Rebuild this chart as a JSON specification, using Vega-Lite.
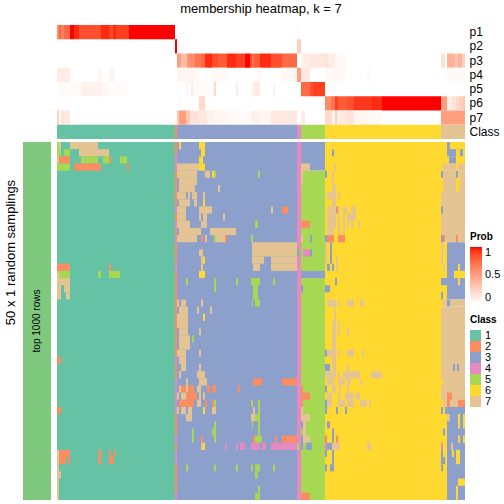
{"$schema":"https://vega.github.io/schema/vega-lite/v6.json","padding":{"left":4,"top":3,"right":0,"bottom":0},"background":"white","bounds":"flush","columns":2,"spacing":{"column":6,"row":3},
"config":{"view":{"stroke":null},"font":"Liberation Sans"},
"resolve":{"scale":{"color":"independent"}},
"concat":[
{"width":28,"height":114,"data":{"values":[]},"mark":{"type":"rect"},"encoding":{}},
{"width":408,"height":114,"title":{"text":"membership heatmap, k = 7","font":"Liberation Sans","fontSize":13,"fontWeight":"normal","anchor":"middle","offset":9,"color":"#000"},
"resolve":{"scale":{"color":"independent"}},
"layer":[
{"data":{"values":[
{"track":"p1","from":0,"to":1,"prob":0.6},{"track":"p1","from":1,"to":2,"prob":0.75},{"track":"p1","from":2,"to":3.5,"prob":0.65},{"track":"p1","from":3.5,"to":6.5,"prob":0.75},{"track":"p1","from":6.5,"to":8.5,"prob":1},{"track":"p1","from":8.5,"to":11,"prob":0.95},{"track":"p1","from":11,"to":22,"prob":0.85},{"track":"p1","from":22,"to":26,"prob":0.95},{"track":"p1","from":26,"to":27,"prob":0.9},{"track":"p1","from":27,"to":28,"prob":0.85},{"track":"p1","from":28,"to":29.5,"prob":0.95},{"track":"p1","from":29.5,"to":36,"prob":0.9},{"track":"p1","from":36,"to":59,"prob":1},{"track":"p1","from":120,"to":121,"prob":0.03},
{"track":"p2","from":59,"to":60,"prob":1},{"track":"p2","from":120,"to":122,"prob":0.25},
{"track":"p3","from":60,"to":62,"prob":0.5},{"track":"p3","from":62,"to":65,"prob":0.35},{"track":"p3","from":65,"to":66.5,"prob":0.55},{"track":"p3","from":66.5,"to":69,"prob":0.6},{"track":"p3","from":69,"to":72,"prob":0.7},{"track":"p3","from":72,"to":74,"prob":0.75},{"track":"p3","from":74,"to":77.5,"prob":0.95},{"track":"p3","from":77.5,"to":80.5,"prob":0.85},{"track":"p3","from":80.5,"to":85,"prob":0.8},{"track":"p3","from":85,"to":89.5,"prob":0.95},{"track":"p3","from":89.5,"to":94,"prob":0.9},{"track":"p3","from":94,"to":96.5,"prob":1},{"track":"p3","from":96.5,"to":97.5,"prob":0.85},{"track":"p3","from":97.5,"to":98.5,"prob":0.7},{"track":"p3","from":98.5,"to":101.5,"prob":0.8},{"track":"p3","from":101.5,"to":107,"prob":0.95},{"track":"p3","from":107,"to":112.5,"prob":0.85},{"track":"p3","from":112.5,"to":120,"prob":0.75},{"track":"p3","from":122,"to":123,"prob":0.05},{"track":"p3","from":123,"to":126.5,"prob":0.1},{"track":"p3","from":126.5,"to":134,"prob":0.12},{"track":"p3","from":134,"to":135.5,"prob":0.15},{"track":"p3","from":135.5,"to":139,"prob":0.1},{"track":"p3","from":139,"to":144.5,"prob":0.03},{"track":"p3","from":192,"to":194,"prob":0.15},{"track":"p3","from":195,"to":199,"prob":0.4},{"track":"p3","from":199,"to":200.5,"prob":0.3},{"track":"p3","from":200.5,"to":202.5,"prob":0.4},{"track":"p3","from":202.5,"to":204,"prob":0.25},
{"track":"p4","from":0,"to":6.5,"prob":0.1},{"track":"p4","from":20.5,"to":22,"prob":0.05},{"track":"p4","from":26,"to":29,"prob":0.05},{"track":"p4","from":60,"to":68.5,"prob":0.05},{"track":"p4","from":68.5,"to":71.5,"prob":0.03},{"track":"p4","from":74,"to":75,"prob":0.03},{"track":"p4","from":77.5,"to":85,"prob":0.03},{"track":"p4","from":99.5,"to":102.5,"prob":0.03},{"track":"p4","from":112.5,"to":117.5,"prob":0.04},{"track":"p4","from":117.5,"to":120,"prob":0.05},{"track":"p4","from":120,"to":122,"prob":0.5},{"track":"p4","from":122,"to":126.5,"prob":0.12},{"track":"p4","from":134,"to":144,"prob":0.03},{"track":"p4","from":155,"to":157,"prob":0.03},{"track":"p4","from":195,"to":204,"prob":0.03},
{"track":"p5","from":1,"to":8.5,"prob":0.02},{"track":"p5","from":8.5,"to":12,"prob":0.03},{"track":"p5","from":12,"to":22,"prob":0.07},{"track":"p5","from":22,"to":26,"prob":0.04},{"track":"p5","from":26,"to":36,"prob":0.02},{"track":"p5","from":64.5,"to":65.5,"prob":0.05},{"track":"p5","from":67,"to":68,"prob":0.1},{"track":"p5","from":68,"to":78.5,"prob":0.02},{"track":"p5","from":78.5,"to":79.5,"prob":0.2},{"track":"p5","from":89.5,"to":90.5,"prob":0.1},{"track":"p5","from":97.5,"to":98,"prob":0.1},{"track":"p5","from":98,"to":99,"prob":0.07},{"track":"p5","from":99,"to":101.5,"prob":0.12},{"track":"p5","from":108,"to":109,"prob":0.06},{"track":"p5","from":122,"to":126.5,"prob":0.75},{"track":"p5","from":126.5,"to":128,"prob":0.85},{"track":"p5","from":128,"to":134,"prob":0.9},
{"track":"p6","from":61,"to":62,"prob":0.02},{"track":"p6","from":71,"to":74,"prob":0.2},{"track":"p6","from":134,"to":137,"prob":0.6},{"track":"p6","from":137,"to":139,"prob":0.7},{"track":"p6","from":139,"to":140.5,"prob":0.9},{"track":"p6","from":140.5,"to":145,"prob":0.8},{"track":"p6","from":145,"to":148.5,"prob":0.85},{"track":"p6","from":148.5,"to":157.5,"prob":0.92},{"track":"p6","from":157.5,"to":162.5,"prob":0.95},{"track":"p6","from":162.5,"to":192,"prob":1},{"track":"p6","from":192,"to":195,"prob":0.5},{"track":"p6","from":195,"to":197.5,"prob":0.1},{"track":"p6","from":197.5,"to":199.5,"prob":0.15},{"track":"p6","from":199.5,"to":201,"prob":0.2},{"track":"p6","from":201,"to":203,"prob":0.25},{"track":"p6","from":203,"to":204,"prob":0.3},
{"track":"p7","from":0,"to":1,"prob":0.25},{"track":"p7","from":1,"to":2,"prob":0.03},{"track":"p7","from":2,"to":3.5,"prob":0.15},{"track":"p7","from":3.5,"to":6.5,"prob":0.12},{"track":"p7","from":60,"to":61,"prob":0.3},{"track":"p7","from":61,"to":64.5,"prob":0.5},{"track":"p7","from":64.5,"to":66.5,"prob":0.3},{"track":"p7","from":66.5,"to":71,"prob":0.15},{"track":"p7","from":71,"to":75,"prob":0.12},{"track":"p7","from":75,"to":78.5,"prob":0.07},{"track":"p7","from":78.5,"to":85,"prob":0.05},{"track":"p7","from":85,"to":91.5,"prob":0.03},{"track":"p7","from":91.5,"to":97.5,"prob":0.02},{"track":"p7","from":97.5,"to":98,"prob":0.1},{"track":"p7","from":98,"to":101.5,"prob":0.08},{"track":"p7","from":101.5,"to":107,"prob":0.05},{"track":"p7","from":107,"to":120,"prob":0.12},{"track":"p7","from":122,"to":124,"prob":0.1},{"track":"p7","from":134,"to":137.5,"prob":0.2},{"track":"p7","from":137.5,"to":139,"prob":0.05},{"track":"p7","from":139,"to":140,"prob":0.25},{"track":"p7","from":140,"to":141.5,"prob":0.1},{"track":"p7","from":141.5,"to":145,"prob":0.12},{"track":"p7","from":145,"to":148.5,"prob":0.15},{"track":"p7","from":148.5,"to":156,"prob":0.05},{"track":"p7","from":156,"to":162.5,"prob":0.03},{"track":"p7","from":192,"to":204,"prob":0.5}
]},
"mark":{"type":"rect"},
"encoding":{
"x":{"field":"from","type":"quantitative","scale":{"domain":[0,204],"nice":false,"zero":false},"axis":null},"x2":{"field":"to"},
"y":{"field":"track","type":"nominal","scale":{"domain":["p1","p2","p3","p4","p5","p6","p7","Class"],"paddingInner":0,"paddingOuter":0},"axis":{"orient":"right","title":null,"ticks":false,"domain":false,"labelPadding":4,"labelFontSize":12,"labelColor":"#000","labelFont":"Liberation Sans"}},
"color":{"field":"prob","type":"quantitative","scale":{"domain":[0,1],"range":["#ffffff","#ff0000"],"interpolate":"lab"},
"legend":{"title":"Prob","orient":"none","legendX":413,"legendY":207,"gradientLength":56,"gradientThickness":12,"values":[0,0.5,1],"format":".1~f","titleFontSize":10,"titleFontWeight":"bold","titleColor":"#000","labelColor":"#000","labelFontSize":11,"labelOffset":3,"labelBaseline":"middle","labelFont":"Liberation Sans","titleFont":"Liberation Sans"}}
}},
{"data":{"values":[
{"track":"Class","from":0,"to":59,"cls":"1"},{"track":"Class","from":59,"to":60,"cls":"2"},{"track":"Class","from":60,"to":120,"cls":"3"},{"track":"Class","from":120,"to":122,"cls":"4"},{"track":"Class","from":122,"to":134,"cls":"5"},{"track":"Class","from":134,"to":192,"cls":"6"},{"track":"Class","from":192,"to":204,"cls":"7"}
]},
"mark":{"type":"rect"},
"encoding":{
"x":{"field":"from","type":"quantitative","axis":null},"x2":{"field":"to"},
"y":{"field":"track","type":"nominal"},
"color":{"field":"cls","type":"nominal","scale":{"domain":["1","2","3","4","5","6","7"],"range":["#66C2A5","#FC8D62","#8DA0CB","#E78AC3","#A6D854","#FFD92F","#E5C494"]},"legend":null}
}}
]},
{"width":28,"height":358,
"layer":[
{"data":{"values":[{"top":0,"bottom":50,"group":"top 1000 rows"}]},
"mark":{"type":"rect","color":"#7FC97F"},
"encoding":{"y":{"field":"top","type":"quantitative","scale":{"domain":[0,50],"reverse":true,"nice":false,"zero":false},"axis":{"title":"50 x 1 random samplings","labels":false,"ticks":false,"domain":false,"grid":false,"titleX":-6,"titleY":110,"titleFontSize":13,"titleFontWeight":"normal","titleColor":"#000","titleFont":"Liberation Sans"}},"y2":{"field":"bottom"}}},
{"data":{"values":[{"pos":25,"group":"top 1000 rows"}]},
"mark":{"type":"text","angle":270,"fontSize":10,"color":"#000","font":"Liberation Sans","baseline":"middle","align":"center"},
"encoding":{"y":{"field":"pos","type":"quantitative"},"text":{"field":"group"}}}
]},
{"width":408,"height":358,
"data":{"values":[
{"from":0,"to":59,"top":0,"bottom":50,"cls":"1"},{"from":59,"to":60,"top":0,"bottom":50,"cls":"2"},{"from":60,"to":120,"top":0,"bottom":50,"cls":"3"},{"from":120,"to":122,"top":0,"bottom":50,"cls":"4"},{"from":122,"to":134,"top":0,"bottom":4,"cls":"3"},{"from":122,"to":134,"top":4,"bottom":50,"cls":"5"},{"from":134,"to":192,"top":0,"bottom":50,"cls":"6"},
{"from":192,"to":204,"top":0,"bottom":4,"cls":"6"},{"from":192,"to":193,"top":4,"bottom":7,"cls":"6"},{"from":193,"to":204,"top":4,"bottom":7,"cls":"7"},{"from":192,"to":204,"top":7,"bottom":14,"cls":"7"},{"from":192,"to":195,"top":14,"bottom":23,"cls":"6"},{"from":195,"to":204,"top":14,"bottom":22,"cls":"3"},{"from":192,"to":204,"top":23,"bottom":37,"cls":"7"},{"from":196.5,"to":204,"top":22,"bottom":23,"cls":"7"},{"from":193,"to":195,"top":22,"bottom":23,"cls":"7"},{"from":195,"to":196.5,"top":22,"bottom":23,"cls":"3"},{"from":192,"to":195,"top":37,"bottom":50,"cls":"6"},{"from":195,"to":204,"top":37,"bottom":50,"cls":"3"},
{"from":59,"to":60,"top":2,"bottom":4,"cls":"4"},{"from":59,"to":60,"top":9,"bottom":10,"cls":"4"},{"from":59,"to":60,"top":11,"bottom":12,"cls":"4"},{"from":59,"to":60,"top":13,"bottom":14,"cls":"4"},{"from":59,"to":60,"top":17,"bottom":18,"cls":"4"},{"from":59,"to":60,"top":30,"bottom":31,"cls":"4"},{"from":59,"to":60,"top":33,"bottom":38,"cls":"4"},{"from":59,"to":60,"top":41,"bottom":42,"cls":"4"},{"from":59,"to":60,"top":43,"bottom":45,"cls":"4"},{"from":59,"to":60,"top":49,"bottom":50,"cls":"4"},
{"from":0,"to":1,"top":0,"bottom":1,"cls":"5"},{"from":1,"to":2,"top":0,"bottom":1,"cls":"7"},{"from":6.5,"to":20.5,"top":0,"bottom":1,"cls":"7"},
{"from":0,"to":2,"top":1,"bottom":2,"cls":"5"},{"from":3.5,"to":6.5,"top":1,"bottom":2,"cls":"5"},{"from":11,"to":26,"top":1,"bottom":2,"cls":"7"},
{"from":0,"to":1,"top":2,"bottom":3,"cls":"7"},{"from":1,"to":6.5,"top":2,"bottom":3,"cls":"2"},{"from":12,"to":20.5,"top":2,"bottom":3,"cls":"5"},{"from":23,"to":26,"top":2,"bottom":3,"cls":"5"},{"from":26,"to":27,"top":2,"bottom":3,"cls":"2"},{"from":31.5,"to":35,"top":2,"bottom":3,"cls":"5"},
{"from":0,"to":6.5,"top":3,"bottom":4,"cls":"5"},{"from":8.5,"to":22,"top":3,"bottom":4,"cls":"2"},{"from":35,"to":36,"top":3,"bottom":4,"cls":"2"},
{"from":0,"to":6.5,"top":17,"bottom":18,"cls":"2"},{"from":26,"to":27,"top":17,"bottom":18,"cls":"2"},
{"from":0,"to":1,"top":18,"bottom":19,"cls":"7"},{"from":1,"to":6.5,"top":18,"bottom":19,"cls":"5"},{"from":20.5,"to":22,"top":18,"bottom":19,"cls":"5"},{"from":26,"to":31.5,"top":18,"bottom":19,"cls":"5"},
{"from":0,"to":6.5,"top":19,"bottom":20,"cls":"7"},{"from":0,"to":2,"top":20,"bottom":21,"cls":"7"},{"from":3.5,"to":6.5,"top":20,"bottom":21,"cls":"7"},{"from":0,"to":2,"top":21,"bottom":22,"cls":"7"},{"from":4.5,"to":6.5,"top":21,"bottom":22,"cls":"7"},
{"from":0,"to":2,"top":30,"bottom":31,"cls":"2"},{"from":0,"to":2,"top":37,"bottom":38,"cls":"2"},
{"from":0,"to":1,"top":43,"bottom":45,"cls":"7"},{"from":1,"to":6.5,"top":43,"bottom":44,"cls":"2"},{"from":20.5,"to":22,"top":43,"bottom":45,"cls":"2"},{"from":26,"to":27,"top":43,"bottom":44,"cls":"2"},{"from":28.5,"to":29.5,"top":43,"bottom":44,"cls":"2"},{"from":1,"to":4.5,"top":44,"bottom":45,"cls":"2"},{"from":5.5,"to":6.5,"top":44,"bottom":45,"cls":"2"},{"from":26,"to":28.5,"top":44,"bottom":45,"cls":"2"},
{"from":0,"to":1,"top":45,"bottom":46,"cls":"7"},{"from":0,"to":2,"top":46,"bottom":47,"cls":"7"},{"from":0,"to":1,"top":47,"bottom":50,"cls":"7"},
{"from":61,"to":62,"top":0,"bottom":1,"cls":"6"},{"from":71,"to":74,"top":0,"bottom":1,"cls":"6"},{"from":72,"to":74,"top":1,"bottom":2,"cls":"6"},{"from":71,"to":73,"top":2,"bottom":3,"cls":"6"},{"from":60,"to":71,"top":3,"bottom":4,"cls":"7"},{"from":71,"to":74,"top":3,"bottom":4,"cls":"6"},
{"from":60,"to":70,"top":4,"bottom":5,"cls":"7"},{"from":74,"to":76.5,"top":4,"bottom":5,"cls":"7"},{"from":77.5,"to":78.5,"top":4,"bottom":5,"cls":"6"},{"from":78.5,"to":79.5,"top":4,"bottom":5,"cls":"5"},{"from":100.5,"to":101.5,"top":4,"bottom":5,"cls":"5"},
{"from":61,"to":70,"top":5,"bottom":6,"cls":"7"},{"from":61,"to":69,"top":6,"bottom":7,"cls":"7"},{"from":80.5,"to":81.5,"top":6,"bottom":7,"cls":"7"},
{"from":60,"to":64.5,"top":7,"bottom":8,"cls":"7"},{"from":65.5,"to":66.5,"top":7,"bottom":8,"cls":"7"},{"from":67.5,"to":70,"top":7,"bottom":8,"cls":"7"},{"from":73,"to":74,"top":7,"bottom":8,"cls":"7"},
{"from":61,"to":66.5,"top":8,"bottom":9,"cls":"7"},{"from":68.5,"to":70,"top":8,"bottom":9,"cls":"7"},{"from":73,"to":74,"top":8,"bottom":9,"cls":"6"},
{"from":60,"to":64.5,"top":9,"bottom":10,"cls":"7"},{"from":71,"to":77.5,"top":9,"bottom":10,"cls":"7"},{"from":107,"to":108,"top":9,"bottom":10,"cls":"7"},{"from":112.5,"to":115.5,"top":9,"bottom":10,"cls":"2"},
{"from":60,"to":64.5,"top":10,"bottom":11,"cls":"7"},{"from":71,"to":72,"top":10,"bottom":11,"cls":"7"},{"from":73,"to":75,"top":10,"bottom":11,"cls":"7"},{"from":83,"to":84,"top":10,"bottom":11,"cls":"7"},
{"from":60,"to":66.5,"top":11,"bottom":12,"cls":"7"},{"from":72,"to":75,"top":11,"bottom":12,"cls":"7"},{"from":99,"to":100.5,"top":11,"bottom":12,"cls":"5"},
{"from":61,"to":72,"top":12,"bottom":13,"cls":"7"},{"from":76.5,"to":89.5,"top":12,"bottom":13,"cls":"7"},
{"from":60,"to":70,"top":13,"bottom":14,"cls":"7"},{"from":72,"to":73,"top":13,"bottom":14,"cls":"2"},{"from":74,"to":75,"top":13,"bottom":14,"cls":"7"},{"from":78.5,"to":79.5,"top":13,"bottom":14,"cls":"5"},{"from":79.5,"to":84,"top":13,"bottom":14,"cls":"7"},{"from":84,"to":85,"top":13,"bottom":14,"cls":"2"},{"from":97,"to":98,"top":13,"bottom":14,"cls":"5"},
{"from":97.5,"to":120,"top":14,"bottom":16,"cls":"7"},{"from":71,"to":73,"top":15,"bottom":16,"cls":"7"},
{"from":72,"to":73,"top":16,"bottom":17,"cls":"7"},{"from":73,"to":74,"top":16,"bottom":17,"cls":"6"},{"from":97.5,"to":103.5,"top":16,"bottom":17,"cls":"7"},{"from":107,"to":120,"top":16,"bottom":17,"cls":"7"},
{"from":72,"to":73,"top":17,"bottom":18,"cls":"7"},{"from":98,"to":101.5,"top":17,"bottom":18,"cls":"7"},{"from":107,"to":120,"top":17,"bottom":18,"cls":"7"},
{"from":71,"to":74,"top":18,"bottom":19,"cls":"6"},
{"from":64.5,"to":65.5,"top":19,"bottom":20,"cls":"5"},{"from":78.5,"to":79.5,"top":19,"bottom":20,"cls":"5"},{"from":89.5,"to":90.5,"top":19,"bottom":20,"cls":"5"},{"from":97,"to":101.5,"top":19,"bottom":20,"cls":"5"},{"from":108,"to":109,"top":19,"bottom":20,"cls":"5"},
{"from":78.5,"to":79.5,"top":20,"bottom":21,"cls":"5"},{"from":98,"to":100.5,"top":20,"bottom":22,"cls":"5"},
{"from":60,"to":61,"top":22,"bottom":23,"cls":"7"},{"from":62,"to":64.5,"top":22,"bottom":23,"cls":"7"},{"from":72,"to":73,"top":22,"bottom":23,"cls":"7"},{"from":97.5,"to":98,"top":22,"bottom":23,"cls":"5"},{"from":99,"to":101.5,"top":22,"bottom":23,"cls":"5"},
{"from":61,"to":65.5,"top":23,"bottom":24,"cls":"7"},{"from":70,"to":71,"top":23,"bottom":24,"cls":"7"},{"from":76.5,"to":77.5,"top":23,"bottom":24,"cls":"7"},
{"from":60,"to":65.5,"top":24,"bottom":26,"cls":"7"},{"from":73,"to":74,"top":24,"bottom":25,"cls":"6"},
{"from":61,"to":65.5,"top":26,"bottom":27,"cls":"7"},{"from":71,"to":72,"top":26,"bottom":27,"cls":"7"},
{"from":61,"to":66.5,"top":27,"bottom":29,"cls":"7"},{"from":67.5,"to":68.5,"top":27,"bottom":28,"cls":"5"},
{"from":60,"to":64.5,"top":29,"bottom":30,"cls":"7"},{"from":71,"to":72,"top":29,"bottom":30,"cls":"7"},{"from":61,"to":64.5,"top":30,"bottom":31,"cls":"7"},{"from":62,"to":64.5,"top":31,"bottom":32,"cls":"7"},{"from":71,"to":72,"top":31,"bottom":32,"cls":"7"},
{"from":61,"to":62,"top":32,"bottom":33,"cls":"7"},{"from":70,"to":74,"top":32,"bottom":33,"cls":"7"},
{"from":64.5,"to":65.5,"top":33,"bottom":34,"cls":"7"},{"from":71,"to":75,"top":33,"bottom":34,"cls":"7"},{"from":98,"to":102.5,"top":33,"bottom":34,"cls":"2"},{"from":112.5,"to":120,"top":33,"bottom":34,"cls":"2"},
{"from":61,"to":62,"top":34,"bottom":35,"cls":"7"},{"from":62,"to":64.5,"top":34,"bottom":35,"cls":"2"},{"from":64.5,"to":65.5,"top":34,"bottom":35,"cls":"7"},{"from":65.5,"to":68.5,"top":34,"bottom":35,"cls":"2"},{"from":70,"to":72,"top":34,"bottom":35,"cls":"7"},{"from":75,"to":76.5,"top":34,"bottom":35,"cls":"2"},{"from":77.5,"to":79.5,"top":34,"bottom":35,"cls":"2"},{"from":90.5,"to":91.5,"top":34,"bottom":35,"cls":"2"},
{"from":60,"to":61,"top":35,"bottom":36,"cls":"7"},{"from":62,"to":64.5,"top":35,"bottom":36,"cls":"7"},{"from":64.5,"to":70,"top":35,"bottom":36,"cls":"2"},{"from":71,"to":72,"top":35,"bottom":36,"cls":"7"},{"from":73,"to":74,"top":35,"bottom":36,"cls":"7"},
{"from":61,"to":68.5,"top":36,"bottom":37,"cls":"2"},{"from":70,"to":72,"top":36,"bottom":37,"cls":"7"},{"from":74,"to":75,"top":36,"bottom":37,"cls":"2"},{"from":77.5,"to":78.5,"top":36,"bottom":37,"cls":"2"},{"from":78.5,"to":79.5,"top":36,"bottom":37,"cls":"5"},{"from":97,"to":98,"top":36,"bottom":37,"cls":"5"},{"from":100.5,"to":101.5,"top":36,"bottom":37,"cls":"5"},
{"from":60,"to":61,"top":37,"bottom":38,"cls":"7"},{"from":62,"to":64.5,"top":37,"bottom":38,"cls":"7"},{"from":65.5,"to":67.5,"top":37,"bottom":38,"cls":"7"},{"from":73,"to":74,"top":37,"bottom":38,"cls":"6"},{"from":77.5,"to":79.5,"top":37,"bottom":38,"cls":"7"},{"from":98,"to":99,"top":37,"bottom":38,"cls":"7"},{"from":100.5,"to":101.5,"top":37,"bottom":38,"cls":"5"},
{"from":64.5,"to":67.5,"top":38,"bottom":39,"cls":"7"},{"from":97,"to":99,"top":38,"bottom":39,"cls":"7"},{"from":99,"to":101.5,"top":38,"bottom":39,"cls":"5"},
{"from":78.5,"to":79.5,"top":39,"bottom":40,"cls":"5"},{"from":97.5,"to":98,"top":39,"bottom":40,"cls":"5"},{"from":100.5,"to":101.5,"top":39,"bottom":41,"cls":"5"},
{"from":67.5,"to":68.5,"top":40,"bottom":42,"cls":"5"},{"from":77.5,"to":79.5,"top":40,"bottom":41,"cls":"5"},
{"from":72,"to":73,"top":41,"bottom":42,"cls":"2"},{"from":78.5,"to":79.5,"top":41,"bottom":42,"cls":"5"},{"from":98,"to":99,"top":41,"bottom":42,"cls":"2"},{"from":99,"to":102.5,"top":41,"bottom":42,"cls":"5"},{"from":109,"to":110,"top":41,"bottom":42,"cls":"2"},{"from":112.5,"to":120,"top":41,"bottom":42,"cls":"2"},
{"from":72,"to":73,"top":42,"bottom":43,"cls":"7"},{"from":73,"to":74,"top":42,"bottom":43,"cls":"6"},{"from":84,"to":85,"top":42,"bottom":43,"cls":"4"},{"from":89.5,"to":90.5,"top":42,"bottom":43,"cls":"4"},{"from":91.5,"to":94,"top":42,"bottom":43,"cls":"4"},{"from":97,"to":101.5,"top":42,"bottom":43,"cls":"4"},{"from":102.5,"to":104.5,"top":42,"bottom":43,"cls":"4"},{"from":107,"to":120,"top":42,"bottom":43,"cls":"4"},
{"from":64.5,"to":65.5,"top":45,"bottom":46,"cls":"5"},{"from":78.5,"to":79.5,"top":45,"bottom":46,"cls":"5"},{"from":89.5,"to":90.5,"top":45,"bottom":46,"cls":"5"},{"from":97,"to":98,"top":45,"bottom":46,"cls":"5"},{"from":99,"to":101.5,"top":45,"bottom":46,"cls":"5"},{"from":108,"to":109,"top":45,"bottom":46,"cls":"5"},
{"from":99,"to":100.5,"top":46,"bottom":47,"cls":"5"},{"from":100.5,"to":101.5,"top":48,"bottom":49,"cls":"5"},{"from":99,"to":101.5,"top":49,"bottom":50,"cls":"5"},
{"from":122,"to":126.5,"top":3,"bottom":4,"cls":"7"},{"from":122,"to":123,"top":4,"bottom":6,"cls":"7"},{"from":122,"to":126.5,"top":11,"bottom":12,"cls":"2"},{"from":122,"to":123,"top":13,"bottom":14,"cls":"7"},{"from":126.5,"to":127.5,"top":13,"bottom":14,"cls":"3"},
{"from":120,"to":121,"top":15,"bottom":16,"cls":"1"},{"from":123,"to":126.5,"top":15,"bottom":16,"cls":"4"},{"from":126.5,"to":127.5,"top":15,"bottom":16,"cls":"3"},
{"from":122,"to":134,"top":18,"bottom":19,"cls":"3"},{"from":122,"to":123,"top":20,"bottom":21,"cls":"3"},{"from":122,"to":123,"top":34,"bottom":35,"cls":"2"},{"from":122,"to":126.5,"top":35,"bottom":36,"cls":"2"},{"from":122,"to":123,"top":36,"bottom":37,"cls":"2"},{"from":122,"to":123,"top":37,"bottom":38,"cls":"7"},{"from":122,"to":126.5,"top":38,"bottom":39,"cls":"7"},{"from":122,"to":123,"top":39,"bottom":40,"cls":"3"},{"from":123,"to":124.5,"top":39,"bottom":41,"cls":"7"},{"from":122,"to":123,"top":41,"bottom":42,"cls":"3"},{"from":123,"to":126.5,"top":41,"bottom":42,"cls":"7"},{"from":120,"to":121,"top":42,"bottom":43,"cls":"5"},{"from":122,"to":123,"top":42,"bottom":43,"cls":"3"},{"from":124.5,"to":127.5,"top":42,"bottom":43,"cls":"3"},{"from":122,"to":126.5,"top":49,"bottom":50,"cls":"2"},
{"from":137.5,"to":138.5,"top":1,"bottom":2,"cls":"3"},{"from":138.5,"to":139.5,"top":3,"bottom":4,"cls":"7"},{"from":134,"to":135,"top":4,"bottom":5,"cls":"3"},{"from":137.5,"to":138.5,"top":4,"bottom":6,"cls":"7"},{"from":137.5,"to":139.5,"top":6,"bottom":7,"cls":"7"},
{"from":135,"to":139.5,"top":7,"bottom":8,"cls":"7"},{"from":140.5,"to":141.5,"top":7,"bottom":8,"cls":"7"},{"from":137.5,"to":139.5,"top":8,"bottom":9,"cls":"7"},
{"from":135,"to":139.5,"top":9,"bottom":10,"cls":"7"},{"from":139.5,"to":140.5,"top":9,"bottom":10,"cls":"2"},{"from":140.5,"to":141.5,"top":9,"bottom":10,"cls":"7"},{"from":143,"to":145,"top":9,"bottom":10,"cls":"7"},{"from":147,"to":149.5,"top":9,"bottom":10,"cls":"7"},
{"from":135,"to":139.5,"top":10,"bottom":12,"cls":"7"},{"from":140.5,"to":141.5,"top":10,"bottom":13,"cls":"7"},{"from":143,"to":144,"top":10,"bottom":13,"cls":"7"},{"from":145,"to":149.5,"top":10,"bottom":11,"cls":"7"},{"from":145,"to":146,"top":11,"bottom":12,"cls":"7"},{"from":147,"to":148,"top":11,"bottom":12,"cls":"7"},{"from":150.5,"to":151.5,"top":11,"bottom":12,"cls":"7"},{"from":135,"to":138.5,"top":12,"bottom":13,"cls":"7"},
{"from":134,"to":135,"top":13,"bottom":14,"cls":"3"},{"from":135,"to":138.5,"top":13,"bottom":14,"cls":"2"},{"from":140.5,"to":144,"top":13,"bottom":14,"cls":"2"},
{"from":134,"to":135,"top":14,"bottom":17,"cls":"7"},{"from":136.5,"to":137.5,"top":14,"bottom":17,"cls":"3"},{"from":139.5,"to":140.5,"top":16,"bottom":18,"cls":"7"},{"from":135,"to":136.5,"top":17,"bottom":18,"cls":"3"},{"from":137.5,"to":138.5,"top":17,"bottom":18,"cls":"3"},
{"from":139,"to":140,"top":19,"bottom":20,"cls":"3"},{"from":134,"to":136.5,"top":20,"bottom":21,"cls":"3"},
{"from":135,"to":139.5,"top":22,"bottom":23,"cls":"7"},{"from":140.5,"to":141.5,"top":22,"bottom":23,"cls":"7"},{"from":145,"to":148.5,"top":22,"bottom":23,"cls":"7"},{"from":151.5,"to":153.5,"top":22,"bottom":23,"cls":"7"},
{"from":138.5,"to":139.5,"top":23,"bottom":25,"cls":"7"},{"from":137.5,"to":139.5,"top":25,"bottom":27,"cls":"7"},{"from":140.5,"to":141.5,"top":25,"bottom":27,"cls":"7"},{"from":145,"to":146,"top":26,"bottom":27,"cls":"7"},{"from":137.5,"to":139.5,"top":27,"bottom":29,"cls":"7"},
{"from":134,"to":135,"top":29,"bottom":30,"cls":"3"},{"from":135,"to":139.5,"top":29,"bottom":30,"cls":"7"},{"from":140.5,"to":141.5,"top":29,"bottom":30,"cls":"7"},{"from":145,"to":148.5,"top":29,"bottom":30,"cls":"7"},{"from":152.5,"to":153.5,"top":29,"bottom":30,"cls":"7"},
{"from":137.5,"to":139.5,"top":30,"bottom":31,"cls":"7"},{"from":134,"to":136.5,"top":31,"bottom":32,"cls":"3"},{"from":137.5,"to":139.5,"top":31,"bottom":32,"cls":"7"},{"from":145,"to":146,"top":31,"bottom":32,"cls":"7"},
{"from":134,"to":139.5,"top":32,"bottom":33,"cls":"7"},{"from":140.5,"to":141.5,"top":32,"bottom":33,"cls":"7"},{"from":143,"to":151.5,"top":32,"bottom":33,"cls":"7"},{"from":157,"to":162.5,"top":32,"bottom":33,"cls":"7"},
{"from":135,"to":138.5,"top":33,"bottom":34,"cls":"7"},{"from":140.5,"to":144,"top":33,"bottom":34,"cls":"7"},{"from":145,"to":147,"top":33,"bottom":34,"cls":"7"},{"from":151.5,"to":152.5,"top":33,"bottom":34,"cls":"7"},
{"from":134,"to":135,"top":34,"bottom":35,"cls":"3"},{"from":137.5,"to":139.5,"top":34,"bottom":35,"cls":"7"},{"from":141,"to":142,"top":34,"bottom":35,"cls":"7"},{"from":145,"to":146,"top":34,"bottom":35,"cls":"7"},
{"from":135,"to":137.5,"top":35,"bottom":37,"cls":"7"},{"from":140.5,"to":141.5,"top":35,"bottom":36,"cls":"7"},{"from":144,"to":148.5,"top":35,"bottom":36,"cls":"7"},{"from":149.5,"to":151.5,"top":35,"bottom":36,"cls":"7"},
{"from":134,"to":135,"top":36,"bottom":38,"cls":"3"},{"from":140.5,"to":144,"top":36,"bottom":37,"cls":"7"},{"from":145,"to":148.5,"top":36,"bottom":37,"cls":"7"},{"from":151.5,"to":155,"top":36,"bottom":37,"cls":"7"},{"from":156,"to":157,"top":36,"bottom":37,"cls":"7"},
{"from":139.5,"to":140.5,"top":37,"bottom":38,"cls":"3"},{"from":144,"to":145,"top":37,"bottom":38,"cls":"3"},{"from":135,"to":136.5,"top":39,"bottom":40,"cls":"3"},{"from":137.5,"to":138.5,"top":40,"bottom":42,"cls":"3"},{"from":134,"to":135,"top":41,"bottom":42,"cls":"2"},{"from":139.5,"to":140.5,"top":41,"bottom":42,"cls":"2"},
{"from":134,"to":135,"top":42,"bottom":43,"cls":"4"},{"from":135,"to":137.5,"top":42,"bottom":43,"cls":"3"},{"from":137.5,"to":141.5,"top":42,"bottom":43,"cls":"7"},{"from":155,"to":157,"top":42,"bottom":43,"cls":"7"},
{"from":134,"to":135,"top":43,"bottom":44,"cls":"3"},{"from":137.5,"to":138.5,"top":43,"bottom":45,"cls":"3"},{"from":134,"to":135,"top":45,"bottom":46,"cls":"3"},{"from":136.5,"to":138.5,"top":45,"bottom":46,"cls":"3"},
{"from":195,"to":196.5,"top":0,"bottom":1,"cls":"3"},{"from":195,"to":199.5,"top":1,"bottom":2,"cls":"3"},{"from":201.5,"to":203,"top":1,"bottom":2,"cls":"3"},{"from":196,"to":199.5,"top":2,"bottom":3,"cls":"3"},{"from":193,"to":199.5,"top":3,"bottom":4,"cls":"7"},{"from":200.5,"to":204,"top":3,"bottom":4,"cls":"7"},
{"from":192,"to":193,"top":4,"bottom":5,"cls":"3"},{"from":199.5,"to":200.5,"top":4,"bottom":5,"cls":"3"},{"from":200.5,"to":201,"top":4,"bottom":5,"cls":"6"},{"from":199.5,"to":201.5,"top":5,"bottom":6,"cls":"6"},{"from":199.5,"to":201,"top":6,"bottom":7,"cls":"6"},
{"from":192,"to":193,"top":9,"bottom":10,"cls":"3"},{"from":192,"to":193,"top":13,"bottom":14,"cls":"3"},{"from":193,"to":194,"top":13,"bottom":14,"cls":"2"},{"from":199.5,"to":200.5,"top":13,"bottom":14,"cls":"2"},
{"from":192,"to":193,"top":14,"bottom":17,"cls":"7"},{"from":193,"to":194,"top":17,"bottom":18,"cls":"7"},{"from":200.5,"to":201.5,"top":17,"bottom":18,"cls":"6"},{"from":198.5,"to":204,"top":18,"bottom":19,"cls":"6"},{"from":192,"to":195,"top":19,"bottom":20,"cls":"3"},{"from":200.5,"to":201.5,"top":19,"bottom":20,"cls":"6"},{"from":192,"to":193,"top":21,"bottom":22,"cls":"3"},
{"from":198,"to":199,"top":31,"bottom":32,"cls":"3"},{"from":200,"to":201,"top":31,"bottom":32,"cls":"3"},{"from":192,"to":193,"top":33,"bottom":34,"cls":"6"},{"from":195,"to":197.5,"top":35,"bottom":36,"cls":"2"},{"from":192,"to":193,"top":36,"bottom":37,"cls":"6"},{"from":195,"to":196.5,"top":36,"bottom":37,"cls":"2"},{"from":200.5,"to":204,"top":36,"bottom":37,"cls":"2"},
{"from":192,"to":193,"top":37,"bottom":38,"cls":"3"},{"from":194,"to":195,"top":37,"bottom":38,"cls":"3"},{"from":195,"to":196.5,"top":38,"bottom":39,"cls":"7"},{"from":200.5,"to":201.5,"top":38,"bottom":40,"cls":"6"},{"from":203,"to":204,"top":38,"bottom":40,"cls":"6"},{"from":193,"to":194,"top":40,"bottom":41,"cls":"3"},{"from":200.5,"to":201.5,"top":41,"bottom":42,"cls":"6"},{"from":203,"to":204,"top":41,"bottom":42,"cls":"6"},
{"from":192,"to":193,"top":42,"bottom":43,"cls":"4"},{"from":197,"to":198,"top":42,"bottom":43,"cls":"7"},{"from":192,"to":193,"top":43,"bottom":44,"cls":"3"},{"from":197.5,"to":198.5,"top":43,"bottom":44,"cls":"6"},{"from":199.5,"to":201.5,"top":43,"bottom":45,"cls":"6"},{"from":192,"to":194,"top":44,"bottom":45,"cls":"3"},{"from":192,"to":193,"top":45,"bottom":46,"cls":"3"},{"from":200.5,"to":204,"top":47,"bottom":48,"cls":"6"},{"from":199.5,"to":200.5,"top":48,"bottom":50,"cls":"6"}
]},
"mark":{"type":"rect"},
"encoding":{
"x":{"field":"from","type":"quantitative","scale":{"domain":[0,204],"nice":false,"zero":false},"axis":null},"x2":{"field":"to"},
"y":{"field":"top","type":"quantitative","scale":{"domain":[0,50],"reverse":true,"nice":false,"zero":false},"axis":null},"y2":{"field":"bottom"},
"color":{"field":"cls","type":"nominal","scale":{"domain":["1","2","3","4","5","6","7"],"range":["#66C2A5","#FC8D62","#8DA0CB","#E78AC3","#A6D854","#FFD92F","#E5C494"]},
"legend":{"title":"Class","orient":"none","legendX":413,"legendY":173,"symbolType":"square","symbolSize":121,"symbolStrokeWidth":0,"rowPadding":-1,"titleFontSize":10,"titleFontWeight":"bold","titleColor":"#000","labelColor":"#000","labelFontSize":11,"labelFont":"Liberation Sans","titleFont":"Liberation Sans"}}
}}
]}
